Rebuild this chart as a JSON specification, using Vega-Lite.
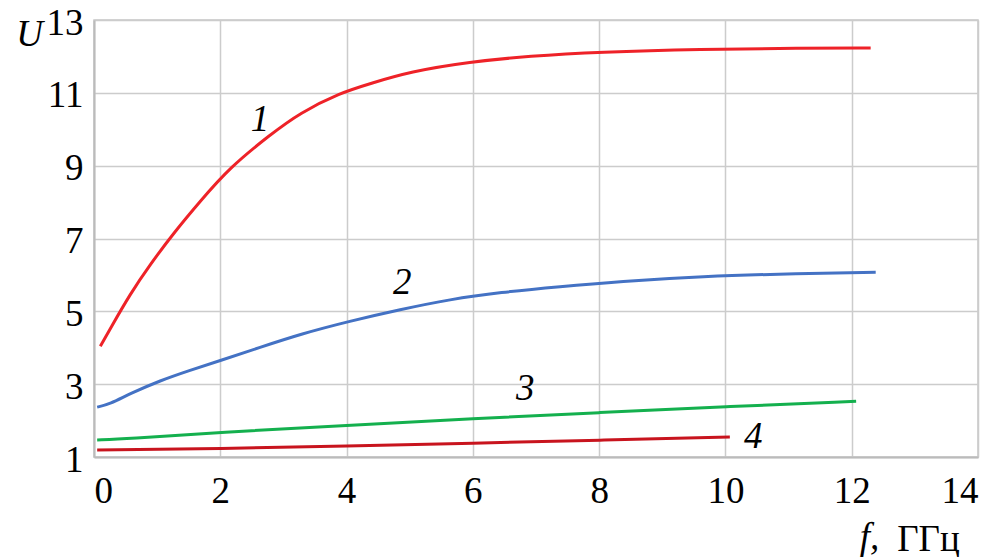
{
  "$schema": "https://vega.github.io/schema/vega-lite/v6.json",
  "width": 884,
  "height": 437,
  "autosize": "none",
  "padding": {"left": 94, "top": 20, "right": 26, "bottom": 100},
  "background": "white",
  "config": {
    "view": {"stroke": "#c8c8c8", "strokeWidth": 1.5},
    "font": "Liberation Serif",
    "axis": {
      "grid": true,
      "gridColor": "#cccccc",
      "gridWidth": 1.5,
      "domainColor": "#bbbbbb",
      "domainWidth": 2,
      "ticks": false,
      "labelFont": "Liberation Serif, Times New Roman, serif",
      "labelFontSize": 37,
      "labelColor": "#000000",
      "titleFont": "Liberation Serif",
      "titleFontSize": 37,
      "titleFontWeight": "normal",
      "titleColor": "#000000"
    }
  },
  "datasets": {
    "curves": [
      {"curve": "1", "f": 0.1, "U": 4.04},
      {"curve": "1", "f": 0.25, "U": 4.5},
      {"curve": "1", "f": 0.57, "U": 5.47},
      {"curve": "1", "f": 0.89, "U": 6.29},
      {"curve": "1", "f": 1.28, "U": 7.19},
      {"curve": "1", "f": 1.68, "U": 8.02},
      {"curve": "1", "f": 2.15, "U": 8.95},
      {"curve": "1", "f": 2.79, "U": 9.85},
      {"curve": "1", "f": 3.26, "U": 10.45},
      {"curve": "1", "f": 3.9, "U": 11.0},
      {"curve": "1", "f": 4.37, "U": 11.25},
      {"curve": "1", "f": 5.0, "U": 11.58},
      {"curve": "1", "f": 5.95, "U": 11.85},
      {"curve": "1", "f": 6.9, "U": 12.01},
      {"curve": "1", "f": 8.0, "U": 12.12},
      {"curve": "1", "f": 9.6, "U": 12.2},
      {"curve": "1", "f": 11.2, "U": 12.23},
      {"curve": "1", "f": 12.3, "U": 12.23},
      {"curve": "2", "f": 0.05, "U": 2.37},
      {"curve": "2", "f": 0.25, "U": 2.45},
      {"curve": "2", "f": 0.57, "U": 2.74},
      {"curve": "2", "f": 1.05, "U": 3.1},
      {"curve": "2", "f": 1.52, "U": 3.38},
      {"curve": "2", "f": 2.0, "U": 3.65},
      {"curve": "2", "f": 2.63, "U": 4.01},
      {"curve": "2", "f": 3.26, "U": 4.37},
      {"curve": "2", "f": 4.05, "U": 4.73},
      {"curve": "2", "f": 4.85, "U": 5.05},
      {"curve": "2", "f": 5.64, "U": 5.33},
      {"curve": "2", "f": 6.43, "U": 5.52},
      {"curve": "2", "f": 7.38, "U": 5.68},
      {"curve": "2", "f": 8.33, "U": 5.82},
      {"curve": "2", "f": 9.6, "U": 5.96},
      {"curve": "2", "f": 11.18, "U": 6.04},
      {"curve": "2", "f": 12.38, "U": 6.07},
      {"curve": "3", "f": 0.05, "U": 1.47},
      {"curve": "3", "f": 0.5, "U": 1.5},
      {"curve": "3", "f": 2.0, "U": 1.68},
      {"curve": "3", "f": 4.0, "U": 1.87},
      {"curve": "3", "f": 6.0, "U": 2.05},
      {"curve": "3", "f": 8.0, "U": 2.22},
      {"curve": "3", "f": 10.0, "U": 2.38},
      {"curve": "3", "f": 12.07, "U": 2.53},
      {"curve": "4", "f": 0.05, "U": 1.19},
      {"curve": "4", "f": 2.0, "U": 1.23},
      {"curve": "4", "f": 4.0, "U": 1.3},
      {"curve": "4", "f": 6.0, "U": 1.38},
      {"curve": "4", "f": 8.0, "U": 1.46},
      {"curve": "4", "f": 10.07, "U": 1.55}
    ],
    "labels": [
      {"label": "1", "f": 2.63, "U": 10.26},
      {"label": "2", "f": 4.88, "U": 5.79},
      {"label": "3", "f": 6.83, "U": 2.86},
      {"label": "4", "f": 10.44, "U": 1.55}
    ],
    "unit": [
      {"label": "f,", "f": 12.28, "U": -1.52}
    ]
  },
  "layer": [
    {
      "data": {"name": "curves"},
      "mark": {"type": "line", "strokeWidth": 3, "interpolate": "basis"},
      "encoding": {
        "x": {
          "field": "f", "type": "quantitative",
          "scale": {"domain": [0, 14], "nice": false},
          "axis": {
            "values": [0, 2, 4, 6, 8, 10, 12, 14],
            "format": "d",
            "labelFont": "Liberation Serif, Times New Roman, serif",
            "labelPadding": 16,
            "title": "ГГц",
            "titleFont": "Liberation Serif",
            "titleX": 834,
            "titleY": 93,
            "titleAlign": "center",
            "titleBaseline": "alphabetic"
          }
        },
        "y": {
          "field": "U", "type": "quantitative",
          "scale": {"domain": [1, 13], "nice": false},
          "axis": {
            "values": [1, 3, 5, 7, 9, 11, 13],
            "format": "d",
            "labelFont": "Liberation Serif, Times New Roman, serif",
            "labelPadding": 11,
            "labelOffset": 3,
            "title": "U",
            "titleFont": "Liberation Serif",
            "titleAngle": 0,
            "titleFontStyle": "italic",
            "titleX": -65,
            "titleY": 14,
            "titleAlign": "center",
            "titleBaseline": "middle"
          }
        },
        "color": {
          "field": "curve", "type": "nominal",
          "scale": {"domain": ["1", "2", "3", "4"], "range": ["#ee2228", "#4472c4", "#14b04e", "#c8141e"]},
          "legend": null
        }
      }
    },
    {
      "data": {"name": "labels"},
      "mark": {"type": "text", "font": "Liberation Serif", "fontSize": 37, "fontStyle": "italic", "align": "center", "baseline": "middle", "color": "#000000"},
      "encoding": {
        "x": {"field": "f", "type": "quantitative"},
        "y": {"field": "U", "type": "quantitative"},
        "text": {"field": "label"}
      }
    },
    {
      "data": {"name": "unit"},
      "mark": {"type": "text", "font": "Liberation Serif", "fontSize": 37, "fontStyle": "italic", "align": "center", "baseline": "alphabetic", "color": "#000000"},
      "encoding": {
        "x": {"field": "f", "type": "quantitative"},
        "y": {"field": "U", "type": "quantitative"},
        "text": {"field": "label"}
      }
    }
  ]
}
